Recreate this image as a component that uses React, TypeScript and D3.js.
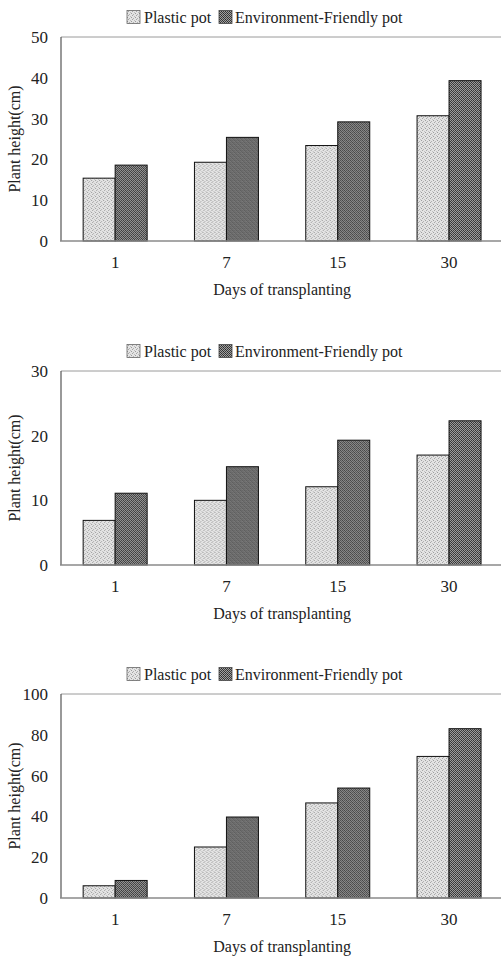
import * as d3 from 'd3';
import React from 'react';

// plant height (top to bottom)
const days = ['1', '7', '15', '30'];
const seriesNames = ['Plastic pot', 'Environment-Friendly pot'];

const plasticA = [15.4, 19.3, 23.4, 30.7];
const ecoA = [18.6, 25.4, 29.2, 39.3];
const ticksA = [0, 10, 20, 30, 40, 50];

const plasticB = [6.9, 10.0, 12.1, 17.0];
const ecoB = [11.1, 15.2, 19.3, 22.3];
const ticksB = [0, 10, 20, 30];

const plasticC = [6.0, 25.0, 46.6, 69.4];
const ecoC = [8.6, 39.7, 53.9, 83.0];
const ticksC = [0, 20, 40, 60, 80, 100];

const yTitle = 'Plant height(cm)';
const xTitle = 'Days of transplanting';

const W = 501;
const H = 956;
const font = "'Liberation Serif', 'Times New Roman', 'DejaVu Serif', serif";

const params = {
  left: 59.5,
  right: 504.7,
  plotLeft: 61,
  labelRight: 48,
  titleX: 14,
};

const panels = [
  { top: 37, bottom: 241, plastic: plasticA, eco: ecoA, ticks: ticksA },
  { top: 371, bottom: 565, plastic: plasticB, eco: ecoB, ticks: ticksB },
  { top: 694, bottom: 898, plastic: plasticC, eco: ecoC, ticks: ticksC },
];

const fills = ['url(#plasticFill)', 'url(#ecoFill)'];
const txt = { fontFamily: font, fill: '#222' };

function Panel({ p }: { p: any }) {
  const x = d3.scaleBand<string>()
    .domain(days)
    .range([params.left, params.right])
    .paddingInner(0.425)
    .paddingOuter(0.2125);
  const xs = d3.scaleBand<number>()
    .domain([0, 1])
    .range([0, x.bandwidth()]);
  const y = d3.scaleLinear()
    .domain([0, p.ticks[p.ticks.length - 1]])
    .range([p.bottom, p.top]);
  const series = [p.plastic, p.eco];
  const midY = (p.top + p.bottom) / 2;
  const legY = p.top - 20;

  return (
    <g>
      {/* frame */}
      <line x1={params.plotLeft} x2={W} y1={p.top} y2={p.top} stroke="#9a9a9a" strokeWidth={1} />
      <line x1={params.plotLeft} x2={params.plotLeft} y1={p.top} y2={p.bottom} stroke="#555" strokeWidth={1.2} />

      {/* bars */}
      {days.map((d, i) => (
        <g key={d} transform={`translate(${x(d)},0)`}>
          {series.map((s, k) => (
            <rect key={k}
              x={xs(k)}
              y={y(s[i])}
              width={xs.bandwidth()}
              height={p.bottom - y(s[i])}
              fill={fills[k]}
              stroke="#111"
              strokeWidth={1} />
          ))}
        </g>
      ))}

      <line x1={params.plotLeft - 1} x2={W} y1={p.bottom} y2={p.bottom} stroke="#8a8a8a" strokeWidth={1.5} />

      {/* y ticks */}
      {p.ticks.map((t: number) => (
        <text key={t} x={params.labelRight} y={y(t)} dy="0.35em" textAnchor="end"
          fontSize={17} style={txt}>{t}</text>
      ))}
      <text transform={`translate(${params.titleX},${midY}) rotate(-90)`} dy="0.35em"
        textAnchor="middle" fontSize={16} style={txt}>{yTitle}</text>

      {/* x ticks */}
      {days.map(d => (
        <text key={d} x={(x(d) as number) + x.bandwidth() / 2} y={p.bottom + 21} dy="0.35em"
          textAnchor="middle" fontSize={17} style={txt}>{d}</text>
      ))}
      <text x={(x(days[0]) as number + (x(days[3]) as number) + x.bandwidth()) / 2} y={p.bottom + 48} dy="0.35em"
        textAnchor="middle" fontSize={16} style={txt}>{xTitle}</text>

      {/* legend */}
      <g transform={`translate(127,${legY})`}>
        <rect x={0} y={-6.5} width={13} height={13} fill={fills[0]} stroke="#666" strokeWidth={0.8} />
        <text x={17} y={0} dy="0.35em" fontSize={16} style={txt}>{seriesNames[0]}</text>
        <rect x={92} y={-6.5} width={13} height={13} fill={fills[1]} stroke="#444" strokeWidth={0.8} />
        <text x={108} y={0} dy="0.35em" fontSize={16} style={txt}>{seriesNames[1]}</text>
      </g>
    </g>
  );
}

export default function App() {
  return (
    <svg width={W} height={H} style={{ position: 'absolute', left: 0, top: 0, background: '#fff' }}>
      <defs>
        <pattern id="plasticFill" width={4} height={4} patternUnits="userSpaceOnUse">
          <rect width={4} height={4} fill="#e4e4e4" />
          <rect x={0} y={0} width={1} height={1} fill="#9a9a9a" />
          <rect x={2} y={1} width={1} height={1} fill="#b0b0b0" />
          <rect x={1} y={2} width={1} height={1} fill="#a4a4a4" />
          <rect x={3} y={3} width={1} height={1} fill="#bdbdbd" />
        </pattern>
        <pattern id="ecoFill" width={4} height={4} patternUnits="userSpaceOnUse">
          <rect width={4} height={4} fill="#a0a0a0" />
          <rect x={0} y={0} width={1} height={1} fill="#2a2a2a" />
          <rect x={2} y={0} width={1} height={1} fill="#3a3a3a" />
          <rect x={1} y={1} width={1} height={1} fill="#333" />
          <rect x={3} y={1} width={1} height={1} fill="#4a4a4a" />
          <rect x={0} y={2} width={1} height={1} fill="#3a3a3a" />
          <rect x={2} y={2} width={1} height={1} fill="#2a2a2a" />
          <rect x={1} y={3} width={1} height={1} fill="#444" />
          <rect x={3} y={3} width={1} height={1} fill="#333" />
        </pattern>
      </defs>
      {panels.map((p, i) => <Panel key={i} p={p} />)}
    </svg>
  );
}
